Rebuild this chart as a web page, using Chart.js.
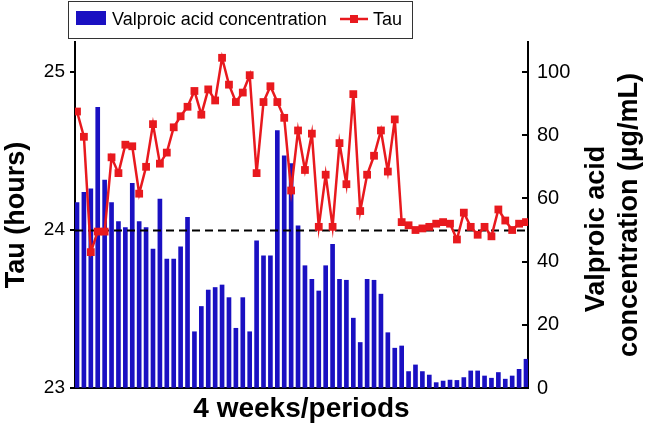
<!DOCTYPE html>
<html>
<head>
<meta charset="utf-8">
<script src="https://cdn.jsdelivr.net/npm/chart.js@4.4.1/dist/chart.umd.min.js"></script>
<style>
  html, body { margin: 0; padding: 0; background: #fff; }
  #wrap { width: 645px; height: 428px; }
</style>
</head>
<body>
<div id="wrap"><canvas id="tauChart" width="645" height="428"></canvas></div>
<script>
// periods along the x axis
const periods = [1, 2, 3, 4, 5, 6, 7, 8, 9, 10, 11, 12, 13, 14, 15, 16, 17, 18, 19, 20,
  21, 22, 23, 24, 25, 26, 27, 28, 29, 30, 31, 32, 33, 34, 35, 36, 37, 38, 39, 40,
  41, 42, 43, 44, 45, 46, 47, 48, 49, 50, 51, 52, 53, 54, 55, 56, 57, 58, 59, 60,
  61, 62, 63, 64, 65, 66];

// valproic acid concentration (ug/mL), right axis
const valproicConc = [58.7, 61.9, 63.0, 88.8, 65.8, 58.7, 52.7, 50.8, 64.8, 52.7,
  50.8, 44.0, 59.8, 40.8, 40.8, 44.7, 54.0, 17.8, 25.8, 31.0,
  31.8, 32.6, 28.6, 18.9, 28.6, 17.8, 46.6, 41.8, 41.8, 81.5,
  73.5, 71.0, 51.3, 38.7, 34.4, 30.7, 38.7, 45.5, 34.4, 34.1,
  22.1, 14.4, 34.4, 34.1, 29.7, 17.5, 12.6, 13.3, 5.2, 7.3,
  5.2, 4.1, 1.7, 2.2, 2.5, 2.4, 3.3, 5.4, 5.4, 3.8,
  3.1, 4.9, 2.8, 3.8, 5.9, 9.1];

// tau (hours), left axis
const tauHours = [24.75, 24.59, 23.86, 23.99, 23.99, 24.46, 24.36, 24.54, 24.53, 24.23,
  24.40, 24.67, 24.42, 24.49, 24.65, 24.72, 24.78, 24.88, 24.73, 24.89,
  24.82, 25.09, 24.92, 24.81, 24.87, 24.98, 24.36, 24.81, 24.91, 24.81,
  24.71, 24.25, 24.63, 24.38, 24.61, 24.02, 24.35, 24.02, 24.55, 24.29,
  24.86, 24.12, 24.35, 24.47, 24.63, 24.37, 24.70, 24.05, 24.03, 24.00,
  24.01, 24.02, 24.04, 24.05, 24.04, 23.94, 24.11, 24.02, 23.97, 24.02,
  23.96, 24.13, 24.06, 24.00, 24.04, 24.05];

const tauTicks = [23, 24, 25];
const concTicks = [0, 20, 40, 60, 80, 100];
const tauReference = 24;

const FONT = '"Liberation Sans", Arial, Helvetica, sans-serif';
const BLUE = '#1a10c2';
const RED = '#e8191e';

// extra drawing: dashed 24 h line, inward ticks on the right, right title, boxed legend
const decorPlugin = {
    id: 'decor',
    afterDatasetDraw(chart, args) {
        if (args.index !== 1) return;
        const { ctx, chartArea: { left, right } } = chart;
        const y = Math.round(chart.scales.yL.getPixelForValue(tauReference)) + 0.5;
        ctx.save();
        ctx.strokeStyle = '#000';
        ctx.lineWidth = 2;
        ctx.setLineDash([8, 5]);
        ctx.beginPath();
        ctx.moveTo(left, y);
        ctx.lineTo(right, y);
        ctx.stroke();
        ctx.restore();
    },
    afterDraw(chart) {
        const ctx = chart.ctx;
        const yR = chart.scales.yR;
        ctx.save();

        // right axis ticks point inwards
        ctx.strokeStyle = '#000';
        ctx.lineWidth = 2;
        ctx.beginPath();
        yR.ticks.forEach(t => {
            const y = Math.round(yR.getPixelForValue(t.value));
            ctx.moveTo(yR.left - 6, y);
            ctx.lineTo(yR.left, y);
        });
        ctx.stroke();

        // right axis title, reading bottom to top
        ctx.fillStyle = '#000';
        ctx.font = 'bold 27px ' + FONT;
        ctx.textAlign = 'center';
        ctx.textBaseline = 'middle';
        ctx.save();
        ctx.translate(597, 229);
        ctx.rotate(-Math.PI / 2);
        ctx.fillText('Valproic acid', 0, 0);
        ctx.restore();
        ctx.save();
        ctx.translate(630, 215);
        ctx.rotate(-Math.PI / 2);
        ctx.fillText('concentration (\u00b5g/mL)', 0, 0);
        ctx.restore();

        // legend box
        ctx.strokeStyle = '#333';
        ctx.lineWidth = 1;
        ctx.strokeRect(68.5, 1.5, 344, 37);
        ctx.fillStyle = BLUE;
        ctx.fillRect(76, 11, 30, 14);
        ctx.fillStyle = '#000';
        ctx.font = '18px ' + FONT;
        ctx.textAlign = 'left';
        ctx.fillText('Valproic acid concentration', 112, 20);
        ctx.strokeStyle = RED;
        ctx.lineWidth = 2.5;
        ctx.beginPath();
        ctx.moveTo(340, 19);
        ctx.lineTo(368, 19);
        ctx.stroke();
        ctx.fillStyle = RED;
        ctx.fillRect(350, 15, 8, 8);
        ctx.fillStyle = '#000';
        ctx.fillText('Tau', 373, 20);
        ctx.restore();
    }
};

const config = {
    type: 'bar',
    data: {
        datasets: [
            {
                type: 'line',
                label: 'Tau',
                yAxisID: 'yL',
                data: periods.map((p, i) => ({ x: p, y: tauHours[i] })),
                borderColor: RED,
                backgroundColor: RED,
                borderWidth: 2.5,
                pointStyle: 'rect',
                pointRadius: 5.5,
                pointBorderWidth: 0,
                pointBackgroundColor: RED,
                tension: 0
            },
            {
                type: 'bar',
                label: 'Valproic acid concentration',
                yAxisID: 'yR',
                data: periods.map((p, i) => ({ x: p, y: valproicConc[i] })),
                backgroundColor: BLUE,
                borderWidth: 0,
                barThickness: 4
            }
        ]
    },
    options: {
        responsive: false,
        devicePixelRatio: 1,
        animation: false,
        layout: { padding: { top: 42, left: 0, right: 0, bottom: 0 } },
        plugins: {
            legend: { display: false },
            tooltip: { enabled: false }
        },
        scales: {
            x: {
                type: 'linear',
                offset: false,
                min: 0.71,
                max: 66.29,
                grid: { display: false },
                border: { display: true, color: '#000', width: 2 },
                ticks: { display: false },
                title: {
                    display: true,
                    text: '4 weeks/periods',
                    color: '#000',
                    font: { family: FONT, size: 28, weight: 'bold' },
                    padding: { top: 0, bottom: 2 }
                },
                afterFit(scale) { scale.height = 40; }
            },
            yL: {
                type: 'linear',
                position: 'left',
                min: 23,
                max: 25.19,
                afterBuildTicks(scale) { scale.ticks = tauTicks.map(v => ({ value: v })); },
                grid: { drawOnChartArea: false, drawTicks: true, tickLength: 5, color: '#000', lineWidth: 2 },
                border: { display: true, color: '#000', width: 2 },
                ticks: { color: '#000', padding: 5, font: { family: FONT, size: 19 } },
                title: {
                    display: true,
                    text: 'Tau (hours)',
                    color: '#000',
                    font: { family: FONT, size: 27, weight: 'bold' },
                    padding: { top: 0, bottom: 0 }
                },
                afterFit(scale) { scale.width = 75; }
            },
            yR: {
                type: 'linear',
                position: 'right',
                min: 0,
                max: 109.5,
                afterBuildTicks(scale) { scale.ticks = concTicks.map(v => ({ value: v })); },
                grid: { drawOnChartArea: false, drawTicks: false },
                border: { display: true, color: '#000', width: 2 },
                ticks: { color: '#000', padding: 9, font: { family: FONT, size: 20 } },
                afterFit(scale) { scale.width = 117; }
            }
        }
    },
    plugins: [decorPlugin]
};

const tauChart = new Chart(document.getElementById('tauChart'), config);
</script>
</body>
</html>
